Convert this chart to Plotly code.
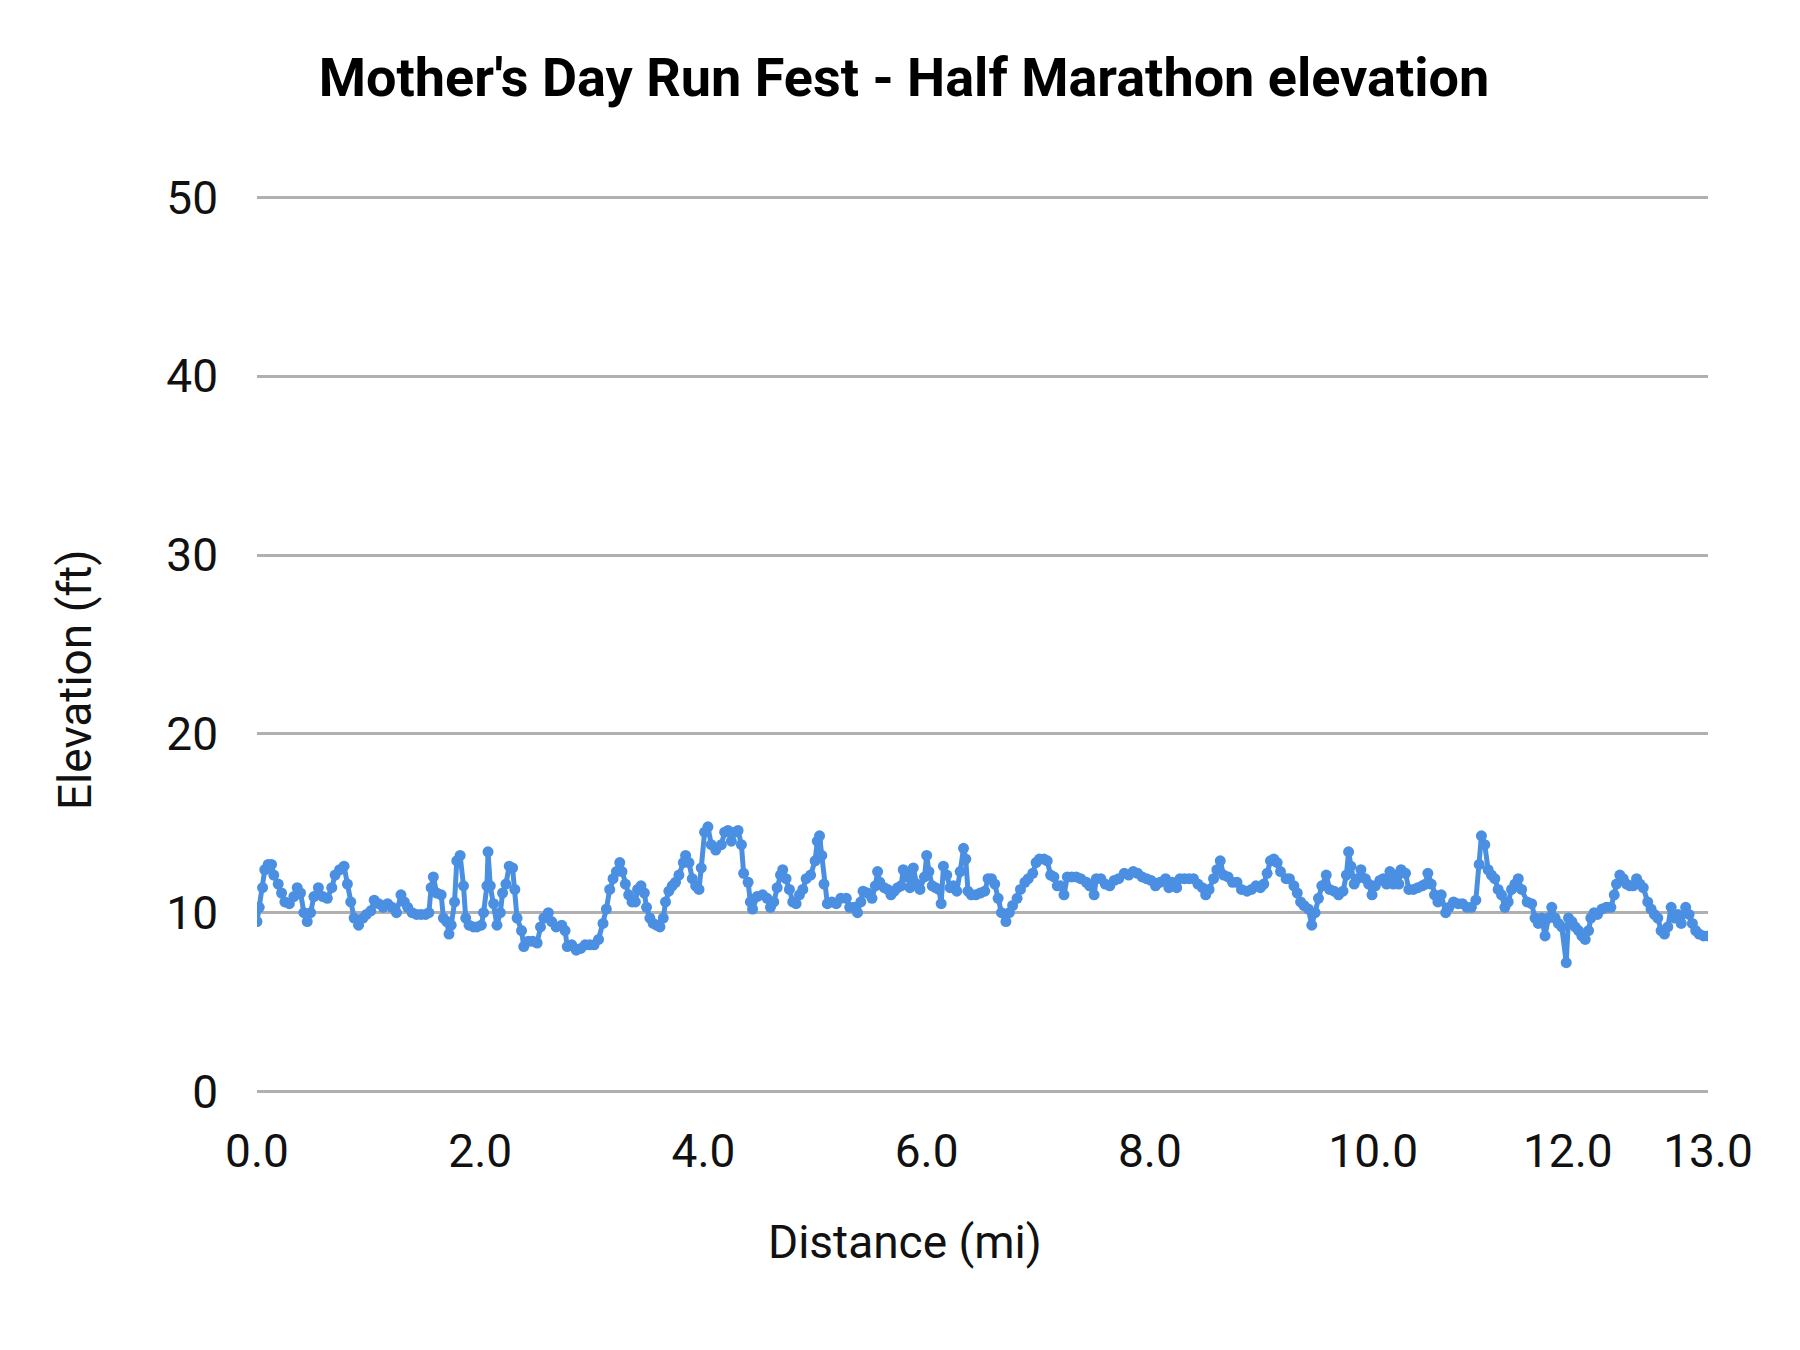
import plotly.graph_objects as go

distance_mi = [
    0.00, 0.02, 0.05, 0.07, 0.10, 0.13, 0.15, 0.19, 0.22, 0.25, 0.29, 0.33, 0.36, 0.39, 0.42, 0.45,
    0.48, 0.51, 0.55, 0.59, 0.63, 0.67, 0.70, 0.74, 0.78, 0.81, 0.84, 0.87, 0.91, 0.95, 0.98, 1.02,
    1.05, 1.09, 1.13, 1.17, 1.21, 1.25, 1.29, 1.32, 1.35, 1.39, 1.43, 1.47, 1.51, 1.54, 1.56, 1.58,
    1.61, 1.65, 1.67, 1.70, 1.72, 1.74, 1.77, 1.79, 1.82, 1.85, 1.87, 1.90, 1.94, 1.97, 2.01, 2.03,
    2.06, 2.07, 2.09, 2.12, 2.15, 2.18, 2.20, 2.23, 2.26, 2.29, 2.31, 2.33, 2.37, 2.39, 2.43, 2.47,
    2.51, 2.54, 2.57, 2.61, 2.64, 2.68, 2.73, 2.76, 2.78, 2.82, 2.86, 2.90, 2.94, 2.98, 3.02, 3.06,
    3.10, 3.13, 3.16, 3.19, 3.22, 3.25, 3.27, 3.30, 3.33, 3.36, 3.39, 3.41, 3.44, 3.47, 3.49, 3.52,
    3.55, 3.58, 3.61, 3.64, 3.66, 3.69, 3.72, 3.75, 3.78, 3.82, 3.84, 3.87, 3.90, 3.93, 3.96, 3.98,
    4.01, 4.04, 4.07, 4.11, 4.16, 4.19, 4.22, 4.25, 4.28, 4.31, 4.34, 4.36, 4.40, 4.42, 4.44, 4.48,
    4.53, 4.57, 4.60, 4.63, 4.66, 4.69, 4.71, 4.74, 4.77, 4.80, 4.83, 4.86, 4.89, 4.92, 4.96, 5.00,
    5.02, 5.04, 5.06, 5.08, 5.11, 5.15, 5.19, 5.23, 5.28, 5.31, 5.35, 5.38, 5.41, 5.43, 5.47, 5.51,
    5.54, 5.56, 5.58, 5.62, 5.65, 5.68, 5.71, 5.74, 5.77, 5.79, 5.81, 5.83, 5.85, 5.88, 5.91, 5.94,
    5.98, 6.00, 6.02, 6.05, 6.08, 6.11, 6.13, 6.15, 6.18, 6.21, 6.24, 6.27, 6.30, 6.33, 6.35, 6.37,
    6.40, 6.44, 6.48, 6.52, 6.55, 6.58, 6.61, 6.64, 6.67, 6.71, 6.74, 6.77, 6.81, 6.84, 6.88, 6.91,
    6.95, 6.98, 7.01, 7.05, 7.08, 7.11, 7.14, 7.17, 7.20, 7.23, 7.26, 7.30, 7.34, 7.38, 7.43, 7.46,
    7.50, 7.52, 7.56, 7.60, 7.64, 7.68, 7.72, 7.77, 7.81, 7.85, 7.89, 7.93, 7.97, 8.01, 8.05, 8.09,
    8.14, 8.17, 8.20, 8.24, 8.27, 8.31, 8.35, 8.39, 8.43, 8.47, 8.50, 8.53, 8.57, 8.60, 8.63, 8.66,
    8.70, 8.74, 8.78, 8.82, 8.87, 8.91, 8.95, 8.99, 9.02, 9.05, 9.08, 9.11, 9.14, 9.17, 9.22, 9.25,
    9.29, 9.32, 9.35, 9.38, 9.42, 9.45, 9.48, 9.51, 9.54, 9.58, 9.61, 9.65, 9.69, 9.73, 9.76, 9.78,
    9.80, 9.83, 9.86, 9.89, 9.93, 9.96, 9.99, 10.02, 10.06, 10.09, 10.12, 10.15, 10.18, 10.20, 10.23, 10.25,
    10.29, 10.32, 10.36, 10.40, 10.44, 10.47, 10.49, 10.52, 10.55, 10.58, 10.61, 10.65, 10.68, 10.72, 10.76, 10.80,
    10.84, 10.88, 10.92, 10.95, 10.97, 11.00, 11.03, 11.06, 11.09, 11.12, 11.15, 11.18, 11.21, 11.24, 11.27, 11.30,
    11.33, 11.38, 11.42, 11.45, 11.48, 11.51, 11.54, 11.57, 11.60, 11.63, 11.66, 11.69, 11.73, 11.75, 11.78, 11.81,
    11.84, 11.87, 11.90, 11.93, 11.95, 11.98, 12.01, 12.05, 12.09, 12.13, 12.16, 12.18, 12.21, 12.24, 12.27, 12.30,
    12.33, 12.36, 12.39, 12.42, 12.46, 12.49, 12.52, 12.55, 12.58, 12.61, 12.64, 12.67, 12.70, 12.73, 12.76, 12.80,
    12.83, 12.86, 12.89, 12.92, 12.96, 13.00,
]

elevation_ft = [
    9.5, 10.3, 11.4, 12.4, 12.7, 12.7, 12.1, 11.6, 11.1, 10.6, 10.5, 10.9, 11.4, 11.1, 10.0, 9.5,
    10.0, 10.9, 11.4, 10.9, 10.8, 11.4, 12.1, 12.4, 12.6, 11.6, 10.6, 9.7, 9.3, 9.7, 9.9, 10.1,
    10.7, 10.5, 10.3, 10.5, 10.3, 10.0, 11.0, 10.6, 10.3, 10.0, 9.9, 9.9, 9.9, 10.0, 11.4, 12.0,
    11.1, 11.0, 9.7, 9.5, 8.8, 9.3, 10.6, 12.9, 13.2, 11.5, 9.7, 9.3, 9.2, 9.2, 9.3, 10.0,
    11.5, 13.4, 11.5, 10.5, 9.3, 10.0, 11.1, 11.6, 12.6, 12.5, 11.3, 9.7, 9.0, 8.1, 8.4, 8.4,
    8.3, 9.2, 9.7, 10.0, 9.5, 9.2, 9.3, 9.0, 8.1, 8.2, 7.9, 8.0, 8.2, 8.2, 8.2, 8.5,
    9.4, 10.2, 11.3, 11.9, 12.3, 12.8, 12.3, 11.6, 11.0, 10.6, 10.6, 11.3, 11.5, 11.1, 10.3, 9.7,
    9.4, 9.3, 9.2, 9.7, 10.6, 11.2, 11.5, 11.7, 12.1, 12.8, 13.2, 12.8, 11.9, 11.5, 11.3, 12.5,
    14.5, 14.8, 13.8, 13.5, 13.8, 14.5, 14.6, 14.0, 14.5, 14.6, 13.8, 12.2, 11.7, 10.6, 10.2, 10.9,
    11.0, 10.8, 10.3, 10.6, 11.4, 12.1, 12.4, 11.9, 11.3, 10.6, 10.5, 11.0, 11.3, 11.9, 12.1, 12.9,
    14.0, 14.3, 13.2, 11.6, 10.5, 10.6, 10.5, 10.8, 10.8, 10.3, 10.3, 10.0, 10.6, 11.2, 11.1, 10.8,
    11.5, 12.3, 11.7, 11.4, 11.3, 11.0, 11.2, 11.4, 11.5, 12.4, 12.0, 12.1, 11.4, 12.5, 11.6, 11.3,
    12.0, 13.2, 12.3, 11.5, 11.4, 11.3, 10.5, 12.6, 12.1, 11.4, 11.5, 11.2, 12.3, 13.6, 13.0, 11.2,
    11.0, 11.0, 11.1, 11.2, 11.9, 11.9, 11.6, 10.8, 10.0, 9.5, 10.0, 10.4, 10.8, 11.3, 11.7, 11.9,
    12.2, 12.8, 13.0, 13.0, 12.9, 12.1, 12.0, 11.5, 11.5, 11.0, 12.0, 12.0, 12.0, 11.9, 11.7, 11.5,
    11.0, 11.9, 11.9, 11.6, 11.5, 11.8, 11.9, 12.2, 12.1, 12.3, 12.2, 12.0, 11.9, 11.8, 11.5, 11.7,
    11.9, 11.4, 11.7, 11.4, 11.9, 11.9, 11.9, 11.9, 11.6, 11.4, 11.0, 11.3, 11.9, 12.4, 12.9, 12.1,
    12.0, 11.7, 11.7, 11.3, 11.2, 11.3, 11.5, 11.4, 11.6, 12.2, 12.9, 13.0, 12.8, 12.3, 11.9, 11.9,
    11.5, 11.1, 10.6, 10.4, 10.2, 9.3, 10.0, 10.8, 11.5, 12.1, 11.3, 11.2, 11.0, 11.2, 12.1, 13.4,
    12.6, 11.6, 11.9, 12.4, 11.9, 11.6, 11.0, 11.5, 11.8, 11.9, 11.6, 12.3, 11.6, 12.1, 11.6, 12.4,
    12.2, 11.3, 11.3, 11.4, 11.5, 11.6, 12.2, 11.6, 11.0, 10.6, 11.0, 10.0, 10.3, 10.6, 10.5, 10.5,
    10.3, 10.3, 10.7, 12.7, 14.3, 13.8, 12.4, 12.1, 11.9, 11.3, 11.0, 10.3, 10.6, 11.3, 11.6, 11.9,
    11.3, 10.6, 10.5, 9.7, 9.4, 9.7, 8.7, 9.7, 10.3, 9.7, 9.4, 9.2, 7.2, 9.7, 9.5, 9.2,
    9.0, 8.7, 8.5, 9.0, 9.7, 10.0, 9.9, 10.2, 10.3, 10.3, 11.0, 11.6, 12.1, 11.9, 11.6, 11.5,
    11.5, 11.9, 11.6, 11.4, 10.6, 10.2, 9.9, 9.7, 9.0, 8.8, 9.2, 10.3, 9.7, 9.9, 9.4, 10.3,
    9.9, 9.4, 9.0, 8.8, 8.7, 8.7,
]

x_ticks = [0, 2, 4, 6, 8, 10, 12, 13]
# 12.0 is nudged left in the original so it does not crowd 13.0
x_tick_labels = ["0.0", "2.0", "4.0", "6.0", "8.0", "10.0", "12.0\u00a0\u00a0\u00a0\u00a0\u00a0", "13.0"]
y_ticks = [0, 10, 20, 30, 40, 50]

fig = go.Figure()
fig.add_trace(go.Scatter(
    x=distance_mi, y=elevation_ft, mode="lines+markers",
    line=dict(color="#4a8fe2", width=5),
    marker=dict(color="#4a8fe2", size=11),
    showlegend=False,
))

# page body adds ~8px offset, margins compensate
fig.update_layout(
    width=1800, height=1350,
    paper_bgcolor="white", plot_bgcolor="white",
    margin=dict(l=249, r=100, t=186, b=263),
    font=dict(family="Roboto", color="#000000", size=46),
    title=dict(text="<b>Mother's Day Run Fest - Half Marathon elevation</b>",
               x=0.4978, xanchor="center", y=1 - 69 / 1350, yanchor="middle",
               font=dict(family="Roboto", size=54, color="#000000")),
)
fig.update_xaxes(
    range=[0, 13], tickvals=x_ticks, ticktext=x_tick_labels, tickangle=0,
    showgrid=False, zeroline=False, showline=False, ticks="",
    ticklabelstandoff=25,
    tickfont=dict(size=46, color="#111111"),
)
fig.update_yaxes(
    range=[-0.2, 50.2], tickvals=y_ticks,
    showgrid=True, gridcolor="#b0b0b0", gridwidth=2.5,
    zeroline=False, showline=False, ticks="",
    ticklabelstandoff=38,
    tickfont=dict(size=46, color="#111111"),
)

# axis titles sit centred on the whole chart, not on the plot area
fig.add_annotation(text="Distance (mi)", xref="paper", yref="paper",
                   x=0.4466, y=-0.163, xanchor="center", yanchor="middle",
                   showarrow=False, font=dict(size=46, color="#111111"))
fig.add_annotation(text="Elevation (ft)", xref="paper", yref="paper",
                   x=-0.1254, y=0.4606, xanchor="center", yanchor="middle",
                   textangle=-90, showarrow=False, font=dict(size=46, color="#111111"))

fig.write_html("out.html")
